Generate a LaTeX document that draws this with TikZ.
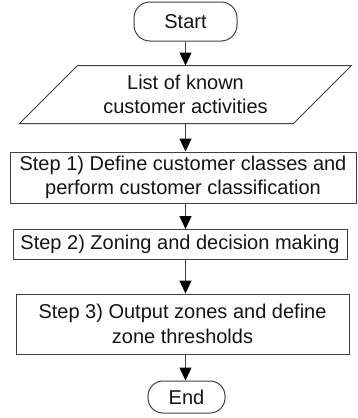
\documentclass[tikz,border=0pt]{standalone}
\usepackage{fontspec}
\setmainfont{Liberation Sans}
\usetikzlibrary{arrows.meta}
\begin{document}
\begin{tikzpicture}[x=1pt,y=-1pt,
  lin/.style={draw=black!75,line width=1pt},
  box/.style={lin,rectangle,inner sep=0pt,align=center,text=black!92,
    font=\fontsize{20}{24.5}\selectfont},
  term/.style={box,rounded corners=16pt},
  arr/.style={lin,-{Triangle[length=13pt,width=12pt,fill=black,color=black]}}]
\useasboundingbox (0,0) rectangle (357,418);
\node[term,minimum width=103pt,minimum height=39pt] (start) at (185.5,21.5) {Start};
\node[box,draw=none,minimum width=273pt,minimum height=57pt] (in) at (185.5,94.5) {List of known\\customer activities};
\draw[lin] ([xshift=29pt]in.north west) -- ([xshift=29pt]in.north east)
  -- ([xshift=-29pt]in.south east) -- ([xshift=-29pt]in.south west) -- cycle;
\node[box,minimum width=346pt,minimum height=51pt] (s1) at (183,177.5) {Step 1) Define customer classes and\\perform customer classification};
\node[box,minimum width=334pt,minimum height=30pt] (s2) at (180,244.5) {Step 2) Zoning and decision making};
\node[box,minimum width=333pt,minimum height=60pt] (s3) at (182.5,324) {Step 3) Output zones and define\\zone thresholds};
\node[term,rounded corners=15pt,minimum width=77pt,minimum height=32pt] (end) at (186.5,397) {End};
\draw[arr] (start.south) -- (start.south |- in.north);
\draw[arr] (start.south |- in.south) -- (start.south |- s1.north);
\draw[arr] (start.south |- s1.south) -- (start.south |- s2.north);
\draw[arr] (start.south |- s2.south) -- (start.south |- s3.north);
\draw[arr] (start.south |- s3.south) -- (start.south |- end.north);
\end{tikzpicture}
\end{document}
